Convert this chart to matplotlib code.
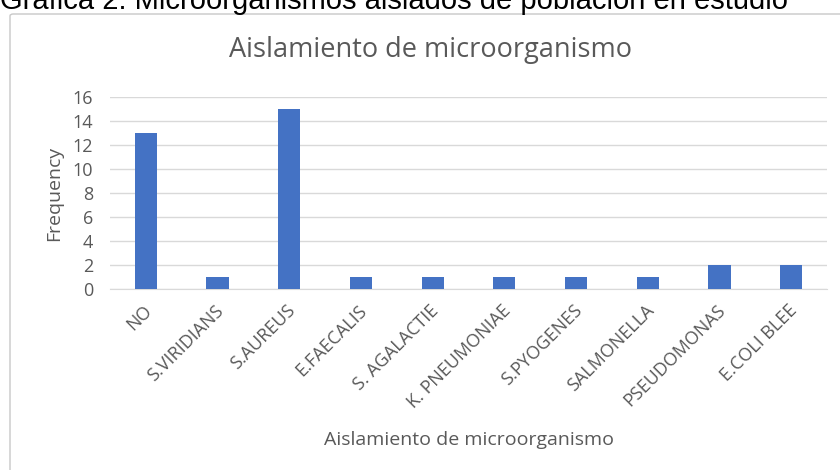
import matplotlib
matplotlib.use('Agg')
import matplotlib.pyplot as plt
import matplotlib.transforms as mtransforms
from matplotlib.patches import FancyBboxPatch

# data
categorias = ['NO', 'S.VIRIDIANS', 'S.AUREUS', 'E.FAECALIS', 'S. AGALACTIE',
              'K. PNEUMONIAE', 'S.PYOGENES', 'SALMONELLA', 'PSEUDOMONAS', 'E.COLI BLEE']
frecuencia = [13, 1, 15, 1, 1, 1, 1, 1, 2, 2]
yticks = [0, 2, 4, 6, 8, 10, 12, 14, 16]

BAR = '#4472C4'
GRID = '#D9D9D9'
TXT = '#595959'
FONT = 'Open Sans'

fig = plt.figure(figsize=(8.4, 4.7), dpi=100)

# chart frame (extends past right/bottom edges like the screenshot)
frame = FancyBboxPatch((10 / 840, -0.05), 1.0, 1 - 14 / 470 + 0.05,
                       boxstyle='round,pad=0,rounding_size=0.004',
                       transform=fig.transFigure, facecolor='white',
                       edgecolor='#C8C8C8', linewidth=1.0, zorder=-5)
fig.patches.append(frame)

# caption cut off at the top of the screenshot
fig.text(0.0, 1 - 9 / 470, 'Gráfica 2: Microorganismos aislados de población en estudio',
         fontsize=21, family='Liberation Sans', color='black',
         ha='left', va='baseline')

ax = fig.add_axes([110 / 840, 1 - 289 / 470, (827 - 110) / 840, (289 - 97) / 470])
ax.set_zorder(2)
ax.set_facecolor('none')
x = list(range(len(categorias)))
ax.bar(x, frecuencia, width=0.31, color=BAR, zorder=3)

ax.set_xlim(-0.5, len(categorias) - 0.5)
ax.set_ylim(0, 16)
ax.set_yticks(yticks)
ax.set_yticklabels([str(v) for v in yticks], family=FONT, fontsize=13, color=TXT)
ax.grid(axis='y', color=GRID, linewidth=1.0, zorder=0)
for s in ['top', 'right', 'left']:
    ax.spines[s].set_visible(False)
ax.spines['bottom'].set_color(GRID)
ax.tick_params(axis='both', length=0)
ax.tick_params(axis='y', pad=12)

ax.set_xticks(x)
ax.set_xticklabels(categorias, rotation=45, ha='right', va='top', rotation_mode='anchor',
                   family=FONT, fontsize=13, color=TXT)
ax.tick_params(axis='x', pad=9)
shift = mtransforms.ScaledTranslation(-3 / 100, 0, fig.dpi_scale_trans)
for lab in ax.get_xticklabels():
    lab.set_transform(lab.get_transform() + shift)

ax.set_ylabel('Frequency', family=FONT, fontsize=14, color=TXT)
ax.yaxis.set_label_coords((63 - 110) / (827 - 110), (289 - 193) / (289 - 97))
ax.set_xlabel('Aislamiento de microorganismo', family=FONT, fontsize=14, color=TXT)
ax.xaxis.set_label_coords((469 - 110) / (827 - 110), -(431 - 289) / (289 - 97))

fig.text(431 / 840, 1 - 50 / 470, 'Aislamiento de microorganismo',
         family=FONT, fontsize=19.5, color=TXT, ha='center', va='center')

fig.savefig('out.png', dpi=100)
